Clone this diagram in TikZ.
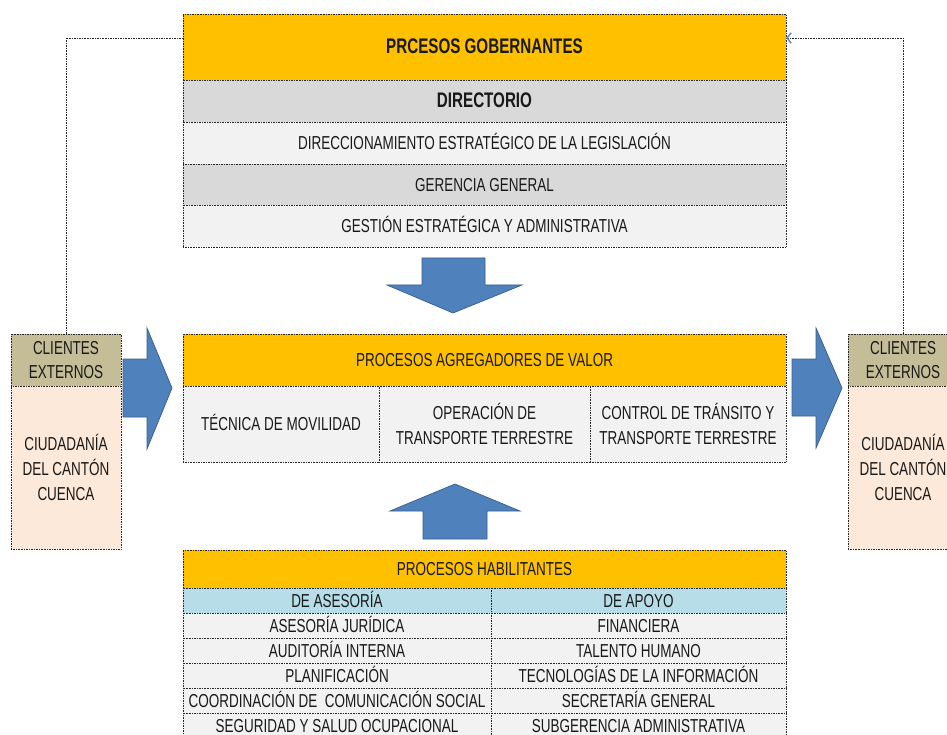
\documentclass[tikz,border=0pt]{standalone}
\usepackage{fontspec}
\setmainfont{Liberation Sans}[FakeStretch=0.72]
\usetikzlibrary{arrows.meta}
\definecolor{amarillo}{HTML}{FFC000}
\definecolor{grisos}{HTML}{D9D9D9}
\definecolor{griscl}{HTML}{F2F2F2}
\definecolor{tostado}{HTML}{C4BD97}
\definecolor{durazno}{HTML}{FDE9D9}
\definecolor{celeste}{HTML}{B7DEE8}
\definecolor{azul}{HTML}{4F81BD}
\definecolor{azulos}{HTML}{385D8A}
\definecolor{azulcl}{HTML}{5B8BCB}
\begin{document}
\begin{tikzpicture}[x=0.03cm, y=-0.03cm,
  celda/.style={draw=black!85, densely dotted, inner sep=0pt, align=center,
    text=black!90, font=\fontsize{16}{21}\selectfont},
  linea/.style={celda, text height=15pt, text depth=3.5pt},
  negrita/.style={font=\fontsize{18}{21}\selectfont\bfseries},
  fila/.style={linea, minimum width=18.09cm, minimum height=1.26cm},
  izq/.style={linea, fill=griscl, minimum width=9.24cm, minimum height=0.75cm},
  der/.style={linea, fill=griscl, minimum width=8.85cm, minimum height=0.75cm},
  bloque/.style={fill=azul, draw=azulos, line width=0.6pt},
  lazo/.style={draw=black!85, densely dotted}]

\useasboundingbox (0,0) rectangle (947,735);

% procesos gobernantes
\node[fila, fill=amarillo, minimum height=1.98cm, negrita] (gob) at (484.5,47) {PRCESOS GOBERNANTES};
\node[fila, fill=grisos, negrita] (dir) at (484.5,101) {DIRECTORIO};
\node[fila, fill=griscl] (dle) at (484.5,143) {DIRECCIONAMIENTO ESTRATÉGICO DE LA LEGISLACIÓN};
\node[fila, fill=grisos, minimum height=1.23cm] (ger) at (484.5,184.5) {GERENCIA GENERAL};
\node[fila, fill=griscl] (gea) at (484.5,226) {GESTIÓN ESTRATÉGICA Y ADMINISTRATIVA};

\filldraw[bloque] (422,258) -- (485,258) -- (485,285) -- (522,285) -- (453,313)
  -- (387,285) -- (422,285) -- cycle;

% procesos agregadores de valor
\node[fila, fill=amarillo, minimum height=1.56cm] (agr) at (484.5,360) {PROCESOS AGREGADORES DE VALOR};
\node[linea, fill=griscl, minimum width=5.88cm, minimum height=2.28cm] (tec) at (281,424) {TÉCNICA DE MOVILIDAD};
\node[celda, fill=griscl, minimum width=6.33cm, minimum height=2.28cm] (ope) at (484.5,424) {OPERACIÓN DE\\TRANSPORTE TERRESTRE};
\node[celda, fill=griscl, minimum width=5.88cm, minimum height=2.28cm] (ctt) at (688,424) {CONTROL DE TRÁNSITO Y\\TRANSPORTE TERRESTRE};

\filldraw[bloque] (423,539) -- (487,539) -- (487,511) -- (520,511) -- (455,484)
  -- (390,511) -- (423,511) -- cycle;

% clientes externos
\node[celda, fill=tostado, minimum width=3.3cm, minimum height=1.56cm] (extL) at (66,360) {CLIENTES\\EXTERNOS};
\node[celda, fill=durazno, minimum width=3.3cm, minimum height=4.89cm] (ciuL) at (66,467.5) {CIUDADANÍA\\DEL CANTÓN\\CUENCA};
\node[celda, fill=tostado, minimum width=3.3cm, minimum height=1.56cm] (extR) at (903,360) {CLIENTES\\EXTERNOS};
\node[celda, fill=durazno, minimum width=3.3cm, minimum height=4.89cm] (ciuR) at (903,467.5) {CIUDADANÍA\\DEL CANTÓN\\CUENCA};

\filldraw[bloque] (123,359) -- (147,359) -- (147,328) -- (172,388) -- (147,449)
  -- (147,417) -- (123,417) -- cycle;
\filldraw[bloque] (792,359) -- (816,359) -- (816,328) -- (842,388) -- (816,448)
  -- (816,416) -- (792,416) -- cycle;

\draw[lazo] (extL.north) |- ([yshift=0.27cm]gob.west);
\draw[lazo, -{Straight Barb[length=3.5pt, width=9pt, color=azulcl, line width=1.2pt]}] (extR.north) |- ([yshift=0.27cm]gob.east);

% procesos habilitantes
\node[fila, fill=amarillo, minimum height=1.14cm] (hab) at (484.5,569) {PROCESOS HABILITANTES};
\node[izq, fill=celeste] (ase) at (337,600.5) {DE ASESORÍA};
\node[der, fill=celeste] (apo) at (638.5,600.5) {DE APOYO};
\node[izq] (jur) at (337,625.5) {ASESORÍA JURÍDICA};
\node[der] (fin) at (638.5,625.5) {FINANCIERA};
\node[izq] (aud) at (337,650.5) {AUDITORÍA INTERNA};
\node[der] (tal) at (638.5,650.5) {TALENTO HUMANO};
\node[izq] (pla) at (337,675.5) {PLANIFICACIÓN};
\node[der] (tic) at (638.5,675.5) {TECNOLOGÍAS DE LA INFORMACIÓN};
\node[izq] (com) at (337,700.5) {COORDINACIÓN DE \ COMUNICACIÓN SOCIAL};
\node[der] (sec) at (638.5,700.5) {SECRETARÍA GENERAL};
\node[izq] (seg) at (337,725.5) {SEGURIDAD Y SALUD OCUPACIONAL};
\node[der] (sub) at (638.5,725.5) {SUBGERENCIA ADMINISTRATIVA};

\end{tikzpicture}
\end{document}
